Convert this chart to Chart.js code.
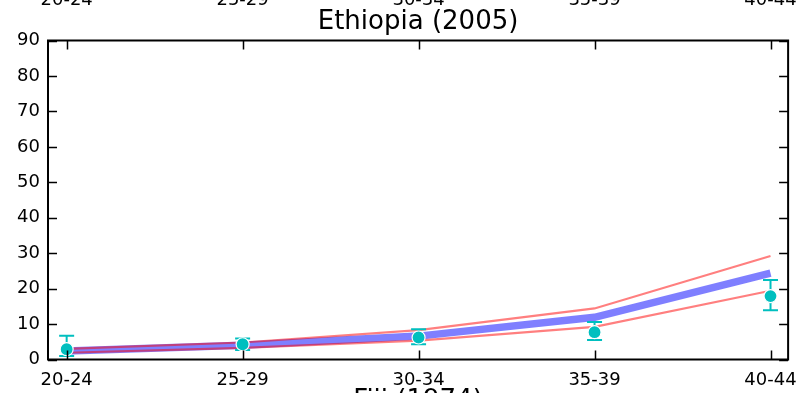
<!DOCTYPE html>
<html>
<head>
<meta charset="utf-8">
<script src="https://cdn.jsdelivr.net/npm/chart.js@4/dist/chart.umd.min.js"></script>
<style>
html,body{margin:0;padding:0;background:#fff;overflow:hidden;}
#wrap{width:807px;height:393px;position:relative;}
</style>
</head>
<body>
<div id="wrap"><canvas id="c" width="807" height="393"></canvas></div>
<script>
const categories = ['20-24', '25-29', '30-34', '35-39', '40-44'];
const modelMean  = [2.4, 4.0, 6.6, 11.9, 24.4];
const modelUpper = [3.0, 4.8, 8.3, 14.4, 29.2];
const modelLower = [1.9, 3.3, 5.3, 9.2, 19.4];
const observed   = [2.9, 4.3, 6.2, 7.7, 17.9];
const obsLow     = [1.0, 2.7, 4.3, 5.5, 13.9];
const obsHigh    = [6.7, 5.9, 8.5, 10.6, 22.4];
const yTickValues = [0, 10, 20, 30, 40, 50, 60, 70, 80, 90];
const titleText = 'Ethiopia (2005)';
const nextTitleText = 'Fiji (1974)';

const FONT = "'DejaVu Sans', sans-serif";
const TEAL = '#00bfbf';

const toXY = arr => arr.map((v, i) => ({x: i, y: v}));

const errorBars = {
  id: 'errorBars',
  beforeDatasetDraw(chart, args) {
    if (args.index !== 3) return;
    const {ctx, scales: {x, y}} = chart;
    ctx.save();
    ctx.strokeStyle = TEAL;
    ctx.lineWidth = 2;
    observed.forEach((v, i) => {
      const px = x.getPixelForValue(i);
      const lo = y.getPixelForValue(obsLow[i]);
      const hi = y.getPixelForValue(obsHigh[i]);
      ctx.beginPath();
      ctx.moveTo(px, lo); ctx.lineTo(px, hi);
      ctx.moveTo(px - 7.5, lo); ctx.lineTo(px + 7.5, lo);
      ctx.moveTo(px - 7.5, hi); ctx.lineTo(px + 7.5, hi);
      ctx.stroke();
    });
    ctx.restore();
  }
};

const frameTicks = {
  id: 'frameTicks',
  afterDatasetsDraw(chart) {
    const {ctx, chartArea: a, scales: {x, y}} = chart;
    ctx.save();
    ctx.strokeStyle = '#000';
    ctx.lineWidth = 1.5;
    ctx.beginPath();
    categories.forEach((c, i) => {
      const px = Math.round(x.getPixelForValue(i)) + 0.5;
      ctx.moveTo(px, a.bottom); ctx.lineTo(px, a.bottom - 9);
      ctx.moveTo(px, a.top); ctx.lineTo(px, a.top + 9);
    });
    yTickValues.forEach(v => {
      const py = Math.round(y.getPixelForValue(v)) + 0.5;
      ctx.moveTo(a.left, py); ctx.lineTo(a.left + 9, py);
      ctx.moveTo(a.right, py); ctx.lineTo(a.right - 9, py);
    });
    ctx.stroke();
    ctx.lineWidth = 2;
    ctx.strokeRect(a.left, a.top, a.right - a.left, a.bottom - a.top);
    ctx.restore();
  },
  afterDraw(chart) {
    const {ctx, chartArea: a, scales: {x}} = chart;
    ctx.save();
    ctx.fillStyle = '#000';
    ctx.textAlign = 'center';
    ctx.textBaseline = 'alphabetic';
    ctx.font = '18px ' + FONT;
    categories.forEach((c, i) => {
      ctx.fillText(c, x.getPixelForValue(i), 4.5);
    });
    ctx.font = '26px ' + FONT;
    const cx = (a.left + a.right) / 2;
    ctx.fillText(titleText, cx, 28.5);
    ctx.textBaseline = 'top';
    ctx.fillText(nextTitleText, cx, 388.5);
    ctx.restore();
  }
};

new Chart(document.getElementById('c'), {
  type: 'line',
  data: {
    datasets: [
      {data: toXY(modelMean), order: 3, borderColor: 'rgba(0,0,255,0.5)', borderWidth: 7.5, pointRadius: 0, fill: false, tension: 0},
      {data: toXY(modelUpper), order: 2, borderColor: 'rgba(255,0,0,0.5)', borderWidth: 2.2, pointRadius: 0, fill: false, tension: 0},
      {data: toXY(modelLower), order: 1, borderColor: 'rgba(255,0,0,0.5)', borderWidth: 2.2, pointRadius: 0, fill: false, tension: 0},
      {data: toXY(observed), order: 0, showLine: false, pointRadius: 6.5, pointBackgroundColor: TEAL, pointBorderColor: '#ffffff', pointBorderWidth: 1.2, borderColor: TEAL}
    ]
  },
  options: {
    responsive: false,
    devicePixelRatio: 1,
    animation: false,
    events: [],
    layout: {padding: {top: 40.5, right: 14, left: 0, bottom: 0}},
    plugins: {legend: {display: false}, tooltip: {enabled: false}, title: {display: false}},
    scales: {
      x: {
        type: 'linear',
        min: -0.106,
        max: 4.1,
        grid: {display: false, drawTicks: false},
        border: {display: false},
        afterFit(s) { s.height = 33.5; },
        ticks: {
          stepSize: 1,
          includeBounds: false,
          autoSkip: false,
          maxRotation: 0,
          padding: 10,
          color: '#000',
          font: {family: FONT, size: 18},
          callback: v => (Number.isInteger(v) && categories[v] !== undefined) ? categories[v] : ''
        }
      },
      y: {
        min: 0,
        max: 90,
        grid: {display: false, drawTicks: false},
        border: {display: false},
        afterFit(s) { s.width = 48; },
        ticks: {
          stepSize: 10,
          padding: 8,
          color: '#000',
          font: {family: FONT, size: 18}
        }
      }
    }
  },
  plugins: [errorBars, frameTicks]
});
</script>
</body>
</html>
